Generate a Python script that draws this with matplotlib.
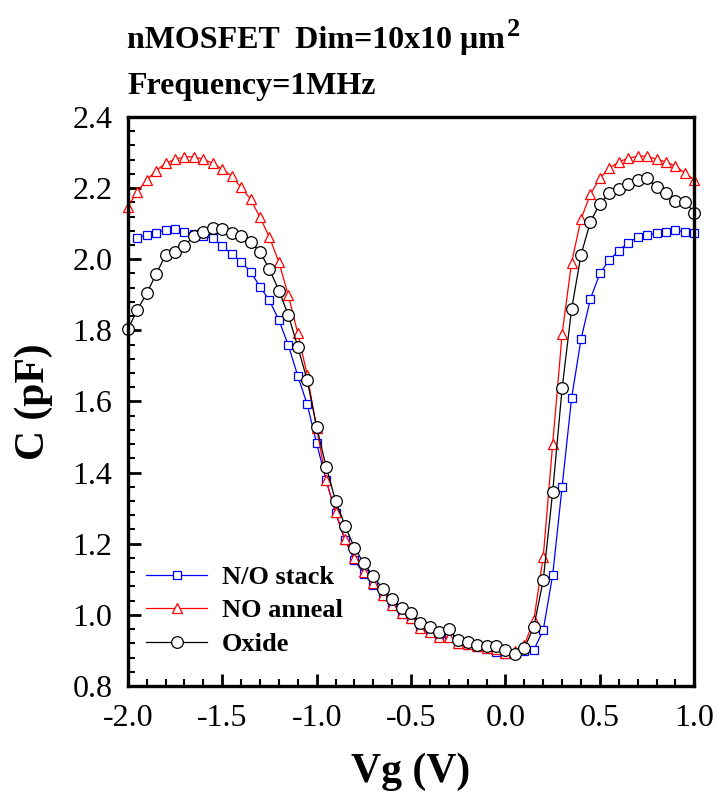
import numpy as np
import matplotlib
matplotlib.use("Agg")
import matplotlib.pyplot as plt
from matplotlib.ticker import MultipleLocator
from matplotlib.transforms import offset_copy

plt.rcParams["font.family"] = ["Liberation Serif", "DejaVu Serif"]
plt.rcParams["mathtext.fontset"] = "custom"
plt.rcParams["mathtext.rm"] = "Liberation Serif"
plt.rcParams["mathtext.bf"] = "Liberation Serif:bold"

# Gate voltage (V), 0.05 V steps
vg_full = np.round(np.arange(-2.0, 1.0001, 0.05), 2)
vg_stack = vg_full[1:]   # N/O stack starts at -1.95 V

# Capacitance (pF)
c_stack = [
    2.061, 2.068, 2.075, 2.083, 2.084, 2.077, 2.071, 2.065, 2.059, 2.037,
    2.015, 1.993, 1.965, 1.923, 1.884, 1.829, 1.758, 1.672, 1.592, 1.482,
    1.379, 1.286, 1.211, 1.154, 1.115, 1.085, 1.052, 1.025, 1.002, 0.988,
    0.962, 0.952, 0.938, 0.936, 0.918, 0.916, 0.910, 0.905, 0.895, 0.890,
    0.889, 0.897, 0.901, 0.957, 1.112, 1.360, 1.609, 1.775, 1.889, 1.960,
    1.998, 2.024, 2.047, 2.062, 2.068, 2.073, 2.077, 2.082, 2.077, 2.073,
]
c_anneal = [
    2.148, 2.190, 2.223, 2.249, 2.270, 2.281, 2.288, 2.288, 2.281, 2.270,
    2.253, 2.234, 2.202, 2.169, 2.118, 2.062, 1.992, 1.899, 1.792, 1.675,
    1.525, 1.379, 1.290, 1.212, 1.159, 1.121, 1.089, 1.056, 1.028, 1.004,
    0.990, 0.962, 0.953, 0.939, 0.937, 0.920, 0.918, 0.912, 0.907, 0.903,
    0.893, 0.897, 0.915, 0.985, 1.163, 1.480, 1.790, 1.990, 2.113, 2.183,
    2.228, 2.256, 2.274, 2.284, 2.290, 2.290, 2.281, 2.274, 2.262, 2.243,
    2.223,
]
c_oxide = [
    1.803, 1.857, 1.904, 1.958, 2.012, 2.021, 2.038, 2.065, 2.077, 2.087,
    2.084, 2.075, 2.065, 2.049, 2.021, 1.972, 1.912, 1.843, 1.754, 1.660,
    1.529, 1.417, 1.321, 1.251, 1.189, 1.145, 1.109, 1.072, 1.044, 1.019,
    1.004, 0.977, 0.967, 0.953, 0.960, 0.928, 0.925, 0.915, 0.911, 0.911,
    0.901, 0.890, 0.906, 0.966, 1.098, 1.346, 1.637, 1.859, 2.012, 2.106,
    2.156, 2.186, 2.198, 2.212, 2.223, 2.228, 2.202, 2.187, 2.165, 2.162,
    2.131,
]

fig = plt.figure(figsize=(7.18, 8.07), dpi=100)
ax = fig.add_axes([0.178, 0.150, 0.789, 0.705])

common = dict(lw=0.9, mew=0.9, mfc="white", clip_on=False)
ax.plot(vg_stack, c_stack, "-s", color="#0000FF", ms=6.4, label="N/O stack", **common)
ax.plot(vg_full, c_anneal, "-^", color="#FF0000", ms=7.8, label="NO anneal", **common)
ax.plot(vg_full, c_oxide, "-o", color="black", ms=8.4, label="Oxide", **common)

ax.set_xlim(-2.0, 1.0)
ax.set_ylim(0.8, 2.4)
ax.xaxis.set_major_locator(MultipleLocator(0.5))
ax.xaxis.set_minor_locator(MultipleLocator(0.1))
ax.yaxis.set_major_locator(MultipleLocator(0.2))
ax.yaxis.set_minor_locator(MultipleLocator(0.04))
ax.xaxis.set_major_formatter(lambda v, p: f"{v:.1f}")
ax.yaxis.set_major_formatter(lambda v, p: f"{v:.1f}")

for s in ax.spines.values():
    s.set_linewidth(2.4)
ax.tick_params(which="both", direction="in", top=False, right=False,
               labelsize=23)
ax.tick_params(axis="x", which="both", pad=13)
ax.tick_params(axis="y", which="both", pad=11)
ax.tick_params(which="major", length=9, width=2.0)
ax.tick_params(which="minor", length=5, width=1.5)

ax.set_xlabel("Vg (V)", fontsize=30, fontweight="bold", labelpad=14)
ax.set_ylabel("C (pF)", fontsize=30, fontweight="bold", labelpad=14)

# Title lines; the superscript 2 is drawn as its own, larger text
t1 = fig.text(0.177, 0.941, "nMOSFET  Dim=10x10 \u03bcm",
              fontsize=23, fontweight="bold", ha="left", va="baseline")
fig.canvas.draw()
bb = t1.get_window_extent()
fig.text(bb.x1 + 2, fig.bbox.height * 0.941 + 12, "2", fontsize=19,
         fontweight="bold", ha="left", va="baseline", transform=None)
fig.text(0.177, 0.884, "Frequency=1MHz",
         fontsize=23, fontweight="bold", ha="left", va="baseline")

leg = ax.legend(loc="upper left", bbox_to_anchor=(0.033, 0.212), frameon=False,
                borderaxespad=0, borderpad=0,
                prop={"size": 19, "weight": "bold"}, handlelength=2.3,
                handletextpad=0.57, labelspacing=0.38)

fig.savefig("out.png", dpi=100)
